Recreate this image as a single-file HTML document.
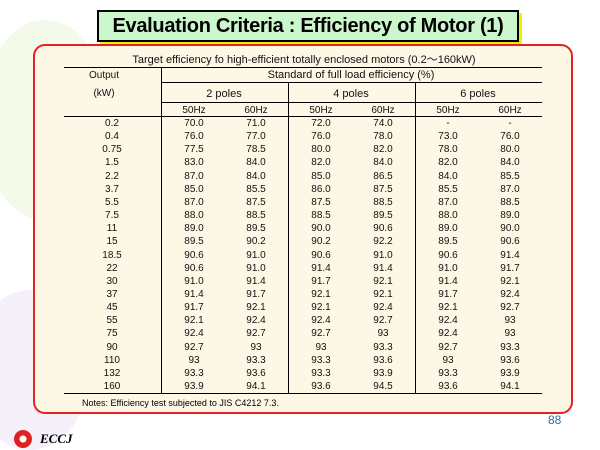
<!DOCTYPE html>
<html><head><meta charset="utf-8">
<style>
body{margin:0;width:600px;height:450px;overflow:hidden;background:#fff;font-family:"Liberation Sans",sans-serif;position:relative}
#bg1{position:absolute;left:-20px;top:20px;width:130px;height:200px;border-radius:50%;background:#f4faea}
#bg2{position:absolute;left:-30px;top:290px;width:120px;height:160px;border-radius:50%;background:#f5f0fa}
#title{position:absolute;left:97px;top:10px;width:418px;height:28px;background:#ccf7cc;border:2px solid #000;box-shadow:3px 3px 0 #f0f000;font-weight:bold;font-size:20px;letter-spacing:-0.3px;text-align:center;line-height:28px;white-space:nowrap}
#panel{position:absolute;left:33px;top:44px;width:536px;height:366px;border:2px solid #e82020;border-radius:12px;background:#fdf7e6}
.t{position:absolute;font-size:10px;line-height:12px;color:#111;text-align:center;white-space:nowrap;transform:translateX(-50%)}
.h{position:absolute;height:1px;background:#000}
.v{position:absolute;width:1px;background:#000}
</style></head><body>
<div id="bg1"></div>
<div id="bg2"></div>
<div id="title">Evaluation Criteria : Efficiency of Motor (1)</div>
<div id="panel"></div>
<div id="tbl"></div>
<div style="position:absolute;left:548px;top:413px;color:#2a6fb0;font-size:12px">88</div>
<div style="position:absolute;left:14px;top:430px;width:18px;height:18px;border-radius:50%;background:radial-gradient(circle,#fff 25%,#e02020 30%)"></div>
<div style="position:absolute;left:40px;top:431px;font-family:'Liberation Serif',serif;font-style:italic;font-weight:bold;font-size:13px">ECCJ</div>
<script>
const outputs=["0.2","0.4","0.75","1.5","2.2","3.7","5.5","7.5","11","15","18.5","22","30","37","45","55","75","90","110","132","160"];
const p2_50=["70.0","76.0","77.5","83.0","87.0","85.0","87.0","88.0","89.0","89.5","90.6","90.6","91.0","91.4","91.7","92.1","92.4","92.7","93","93.3","93.9"];
const p2_60=["71.0","77.0","78.5","84.0","84.0","85.5","87.5","88.5","89.5","90.2","91.0","91.0","91.4","91.7","92.1","92.4","92.7","93","93.3","93.6","94.1"];
const p4_50=["72.0","76.0","80.0","82.0","85.0","86.0","87.5","88.5","90.0","90.2","90.6","91.4","91.7","92.1","92.1","92.4","92.7","93","93.3","93.3","93.6"];
const p4_60=["74.0","78.0","82.0","84.0","86.5","87.5","88.5","89.5","90.6","92.2","91.0","91.4","92.1","92.1","92.4","92.7","93","93.3","93.6","93.9","94.5"];
const p6_50=["-","73.0","78.0","82.0","84.0","85.5","87.0","88.0","89.0","89.5","90.6","91.0","91.4","91.7","92.1","92.4","92.4","92.7","93","93.3","93.6"];
const p6_60=["-","76.0","80.0","84.0","85.5","87.0","88.5","89.0","90.0","90.6","91.4","91.7","92.1","92.4","92.7","93","93","93.3","93.6","93.9","94.1"];
const tbl=document.getElementById('tbl');
function txt(s,x,y,name,size){const d=document.createElement('div');d.className='t';d.textContent=s;d.style.left=x+'px';d.style.top=y+'px';if(size)d.style.fontSize=size+'px';


tbl.appendChild(d);}
function hl(x,y,w,name){const d=document.createElement('div');d.className='h';d.style.left=x+'px';d.style.top=y+'px';d.style.width=w+'px';


tbl.appendChild(d);}
function vl(x,y,h,name){const d=document.createElement('div');d.className='v';d.style.left=x+'px';d.style.top=y+'px';d.style.height=h+'px';


tbl.appendChild(d);}
txt("Target efficiency fo high-efficient totally enclosed motors (0.2\u301c160kW)",304,54,'table-title',11);
hl(64,67,478,'rule-top');hl(161,82,381,'rule-standard');hl(161,102,381,'rule-poles');hl(64,116,478,'rule-header');
const top0=118,rh=13.15,bottom=393;
hl(64,bottom,478,'rule-bottom');
vl(161,67,bottom-67,'divider-output');vl(288,82,bottom-82,'divider-2-4');vl(415,82,bottom-82,'divider-4-6');
txt("Output",104,70,'output-header');txt("(kW)",104,88,'unit-header');
txt("Standard of full load efficiency (%)",351,69,'standard-header',11);
txt("2 poles",224,88,'2-poles-header',11);txt("4 poles",351,88,'4-poles-header',11);txt("6 poles",478,88,'6-poles-header',11);
const cx=[194,256,321,383,448,510];
cx.forEach((x,i)=>txt(i%2?"60Hz":"50Hz",x,105,'freq-header'));
const cols=[p2_50,p2_60,p4_50,p4_60,p6_50,p6_60];
outputs.forEach((o,r)=>{const y=top0+r*rh;txt(o,112,y,'output-'+o);
cols.forEach((c,j)=>txt(c[r],cx[j],y,'efficiency-cell'));});
const n=document.createElement('div');n.style.cssText='position:absolute;left:82px;top:398px;font-size:9px';n.textContent='Notes: Efficiency test subjected to JIS C4212 7.3.';


tbl.appendChild(n);
</script>
</body></html>
